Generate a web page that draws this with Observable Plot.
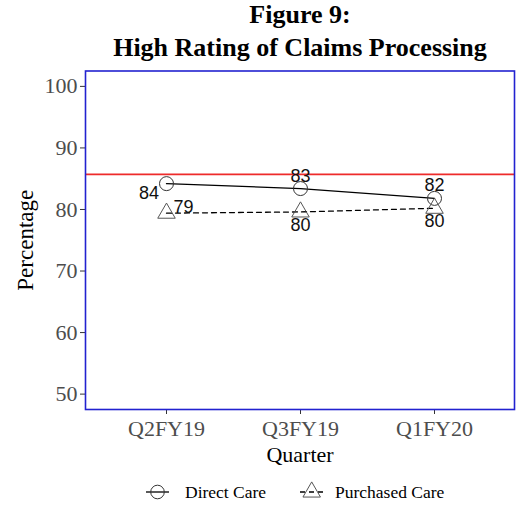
<!DOCTYPE html>
<html>
<head>
<meta charset="utf-8">
<script src="https://cdn.jsdelivr.net/npm/d3@7"></script>
<script src="https://cdn.jsdelivr.net/npm/@observablehq/plot@0.6"></script>
<style>
  body { margin: 0; background: #fff; }
  #wrap { position: relative; width: 516px; height: 508px; overflow: hidden; background: #fff; }
  #title { position: absolute; left: 50px; top: -2px; width: 500px; text-align: center;
           font-family: "Liberation Serif", "Times New Roman", serif; font-weight: bold;
           font-size: 26px; line-height: 33px; color: #000; }
  #chart { position: absolute; left: 0; top: 62px; }
  #legend { position: absolute; left: 0; top: 472px; }
</style>
</head>
<body>
<div id="wrap">
  <div id="title">Figure 9:<br>High Rating of Claims Processing</div>
  <div id="chart"></div>
  <svg id="legend" width="516" height="36"></svg>
</div>
<script>
// ---- data ----
const quarters = ["Q2FY19", "Q3FY19", "Q1FY20"];
const directCare = [84.2, 83.4, 81.8];
const purchasedCare = [79.4, 79.6, 80.2];
const benchmark = [85.7];
const yTicks = [50, 60, 70, 80, 90, 100];
const seriesNames = ["Direct Care", "Purchased Care"];

const directRows = quarters.map((q, i) => ({quarter: q, value: directCare[i], series: seriesNames[0]}));
const purchasedRows = quarters.map((q, i) => ({quarter: q, value: purchasedCare[i], series: seriesNames[1]}));

// label offsets (pixels), like repelled labels in the reference
const directOffsets = [[-17.5, 9.5], [0, -12], [0, -13]];
const purchasedOffsets = [[17, -6], [0, 13.5], [0, 13]];

const fmt = d3.format(".0f");
const labelMarks = [];
directRows.forEach((d, i) => labelMarks.push(Plot.text([d], {
  x: "quarter", y: "value", text: r => fmt(r.value),
  dx: directOffsets[i][0], dy: directOffsets[i][1],
  fontFamily: "Liberation Sans, Arial, sans-serif", fontSize: 18, fill: "#111"
})));
purchasedRows.forEach((d, i) => labelMarks.push(Plot.text([d], {
  x: "quarter", y: "value", text: r => fmt(r.value),
  dx: purchasedOffsets[i][0], dy: purchasedOffsets[i][1],
  fontFamily: "Liberation Sans, Arial, sans-serif", fontSize: 18, fill: "#111"
})));

const H = 410;
const chart = Plot.plot({
  width: 516,
  height: H,
  marginTop: 8.5,
  marginBottom: H - 347,
  marginLeft: 85,
  marginRight: 2,
  style: {fontFamily: "Liberation Serif, Times New Roman, serif", background: "#fff", overflow: "visible"},
  x: {type: "point", domain: quarters, padding: 0.6},
  y: {domain: [47.5, 102.5]},
  marks: [
    Plot.ruleY(benchmark, {stroke: "#ee2b2b", strokeWidth: 1.6}),
    Plot.line(directRows, {x: "quarter", y: "value", stroke: "#000", strokeWidth: 1.3}),
    Plot.line(purchasedRows, {x: "quarter", y: "value", stroke: "#000", strokeWidth: 1.3, strokeDasharray: "5,4"}),
    Plot.dot(directRows, {x: "quarter", y: "value", symbol: "circle", r: 7, stroke: "#333", strokeWidth: 1, fill: "none"}),
    Plot.dot(purchasedRows, {x: "quarter", y: "value", symbol: "triangle", r: 6.5, stroke: "#555", strokeWidth: 1, fill: "none"}),
    ...labelMarks,
    Plot.axisY(yTicks, {tickSize: 5, tickPadding: 3, fontSize: 22, fill: "#4d4d4d", stroke: "#333", label: null}),
    Plot.axisX({tickSize: 5, tickPadding: 6, fontSize: 22, fill: "#4d4d4d", stroke: "#333", label: null}),
    Plot.text(["Percentage"], {frameAnchor: "left", dx: -60, rotate: -90, textAnchor: "middle", lineAnchor: "middle", text: d => d, fontSize: 23, fill: "#000"}),
    Plot.text(["Quarter"], {frameAnchor: "bottom", dy: 45, textAnchor: "middle", lineAnchor: "middle", text: d => d, fontSize: 22, fill: "#000"}),
    Plot.frame({stroke: "#2222d0", strokeWidth: 1.6})
  ]
});
document.getElementById("chart").appendChild(chart);

// ---- legend ----
const lg = d3.select("#legend");
const cy = 20;
// Direct Care key
lg.append("line").attr("x1", 146).attr("x2", 169).attr("y1", cy).attr("y2", cy).attr("stroke", "#000").attr("stroke-width", 1.3);
lg.append("circle").attr("cx", 157.5).attr("cy", cy).attr("r", 6.8).attr("fill", "none").attr("stroke", "#333");
lg.append("text").attr("x", 185).attr("y", cy + 6).text(seriesNames[0])
  .attr("font-family", "Liberation Serif, Times New Roman, serif").attr("font-size", 17.5).attr("fill", "#000");
// Purchased Care key
lg.append("line").attr("x1", 300).attr("x2", 323).attr("y1", cy).attr("y2", cy).attr("stroke", "#000").attr("stroke-width", 1.3).attr("stroke-dasharray", "5,4");
lg.append("path").attr("transform", `translate(311.7,${cy})`).attr("d", d3.symbol(d3.symbolTriangle, Math.PI * 6.5 * 6.5)())
  .attr("fill", "none").attr("stroke", "#555");
lg.append("text").attr("x", 335).attr("y", cy + 6).text(seriesNames[1])
  .attr("font-family", "Liberation Serif, Times New Roman, serif").attr("font-size", 17.5).attr("fill", "#000");
</script>
</body>
</html>
